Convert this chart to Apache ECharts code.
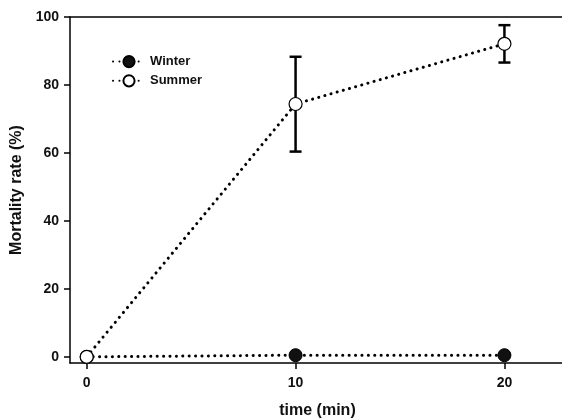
<!DOCTYPE html>
<html><head><meta charset="utf-8">
<script src="https://cdn.jsdelivr.net/npm/echarts@6/dist/echarts.min.js"></script>
<style>html,body{margin:0;padding:0;background:#fff}#c{width:562px;height:419px}</style>
</head><body><div id="c"></div>
<script>
const times = [0, 10, 20];
const winter = [0, 0.5, 0.5];
const summer = [0, 74.4, 92.1];
const summerLow = [0, 60.4, 86.6];
const summerHigh = [0, 88.3, 97.6];
const xTicks = [0, 10, 20];
const yTicks = [0, 20, 40, 60, 80, 100];

const font = 'Liberation Sans, Arial, sans-serif';
const dotted = {color: '#000', width: 3, type: [0.1, 6.3], cap: 'round'};
const chart = echarts.init(document.getElementById('c'));
const errData = times.map((t, i) => [t, summerLow[i], summerHigh[i]]).filter(d => d[2] > d[1]);
chart.setOption({
  animation: false,
  grid: {left: 70, right: -3, top: 17, bottom: 56, containLabel: false, outerBoundsMode: 'none'},
  legend: {
    left: 107, top: 50, orient: 'vertical', itemGap: 6, itemWidth: 32, itemHeight: 14,
    textStyle: {fontFamily: font, fontWeight: 'bold', fontSize: 13, color: '#111'},
    data: ['Winter', 'Summer']
  },
  xAxis: [{
    type: 'value', min: -0.8, max: 22.9,
    name: 'time (min)', nameLocation: 'middle', nameGap: 40,
    nameTextStyle: {fontFamily: font, fontWeight: 'bold', fontSize: 16, color: '#111'},
    axisLine: {show: true, onZero: false, lineStyle: {color: '#000', width: 1.5}},
    axisTick: {show: true, length: 6, lineStyle: {color: '#000', width: 1.5}, customValues: xTicks},
    axisLabel: {fontFamily: font, fontWeight: 'bold', fontSize: 14, color: '#111', margin: 13, customValues: xTicks},
    splitLine: {show: false}
  }, {
    type: 'value', position: 'top', min: -0.8, max: 22.9,
    axisLine: {show: true, onZero: false, lineStyle: {color: '#000', width: 1.5}},
    axisTick: {show: false}, axisLabel: {show: false}, splitLine: {show: false}
  }],
  yAxis: {
    type: 'value', min: -1.8, max: 100,
    name: 'Mortality rate (%)', nameLocation: 'middle', nameGap: 42,
    nameTextStyle: {fontFamily: font, fontWeight: 'bold', fontSize: 16, color: '#111'},
    axisLine: {show: true, onZero: false, lineStyle: {color: '#000', width: 1.5}},
    axisTick: {show: true, length: 6, lineStyle: {color: '#000', width: 1.5}, customValues: yTicks},
    axisLabel: {fontFamily: font, fontWeight: 'bold', fontSize: 14, color: '#111', margin: 11, customValues: yTicks},
    splitLine: {show: false}
  },
  series: [
    {
      name: 'Winter', type: 'line', data: times.map((t, i) => [t, winter[i]]),
      symbol: 'circle', symbolSize: 13, lineStyle: dotted,
      itemStyle: {color: '#111', borderColor: '#000', borderWidth: 1}, z: 2
    },
    {
      type: 'custom', data: errData, z: 3, silent: true,
      renderItem: function (params, api) {
        const x = api.value(0);
        const lo = api.coord([x, api.value(1)]);
        const hi = api.coord([x, api.value(2)]);
        const w = 6;
        const st = {stroke: '#000', lineWidth: 2.5};
        return {type: 'group', children: [
          {type: 'line', shape: {x1: lo[0], y1: lo[1], x2: hi[0], y2: hi[1]}, style: st},
          {type: 'line', shape: {x1: lo[0] - w, y1: lo[1], x2: lo[0] + w, y2: lo[1]}, style: st},
          {type: 'line', shape: {x1: hi[0] - w, y1: hi[1], x2: hi[0] + w, y2: hi[1]}, style: st}
        ]};
      }
    },
    {
      name: 'Summer', type: 'line', data: times.map((t, i) => [t, summer[i]]),
      symbol: 'circle', symbolSize: 13, lineStyle: dotted,
      itemStyle: {color: '#fff', borderColor: '#000', borderWidth: 1.2}, z: 4
    }
  ]
});
</script></body></html>
